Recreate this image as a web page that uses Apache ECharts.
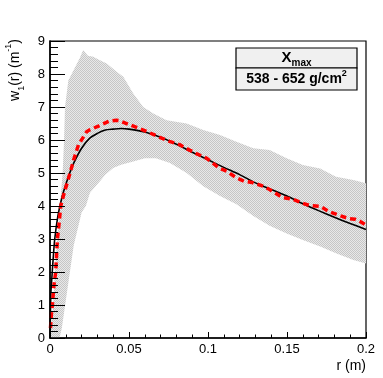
<!DOCTYPE html>
<html><head><meta charset="utf-8">
<script src="https://cdn.jsdelivr.net/npm/echarts@6/dist/echarts.min.js"></script>
<style>html,body{margin:0;padding:0;background:#fff}#c{width:383px;height:378px}</style>
</head><body><div id="c"></div>
<script>
// Band envelope (gray spread)
const upperX = [0,0.001,0.002,0.003,0.0045,0.0063,0.008,0.0089,0.0095,0.0116,0.0158,0.019,0.021,0.024,0.0274,0.0316,0.0359,0.0422,0.0464,0.0527,0.059,0.0654,0.0738,0.0865,0.097,0.1076,0.118,0.1287,0.139,0.1498,0.16,0.171,0.181,0.192,0.2];
const upperY = [0,0.5,1.0,2.0,3.0,4.0,5.0,6.0,7.0,7.8,8.2,8.5,8.73,8.55,8.52,8.42,8.32,8.07,7.92,7.41,7.0,6.8,6.6,6.5,6.3,6.15,5.95,5.75,5.7,5.45,5.24,5.14,4.89,4.79,4.69];
const lowerX = [0,0.006,0.0075,0.009,0.012,0.015,0.0175,0.02,0.0227,0.0253,0.0316,0.035,0.04,0.045,0.0527,0.06,0.067,0.0759,0.0865,0.097,0.1076,0.118,0.1287,0.139,0.1498,0.16,0.171,0.181,0.192,0.2];
const lowerY = [0,0,0.3,0.8,1.8,2.8,3.3,3.8,4.0,4.4,4.75,4.95,5.15,5.25,5.35,5.45,5.45,5.3,5.0,4.6,4.3,4.05,3.7,3.4,3.17,2.97,2.77,2.57,2.36,2.26];
// Fit curve (black)
const fitX = [0,0.0005,0.001,0.002,0.003,0.005,0.0075,0.01,0.0125,0.015,0.02,0.025,0.03,0.035,0.04,0.045,0.05,0.06,0.07,0.08,0.09,0.1,0.11,0.12,0.13,0.14,0.15,0.16,0.17,0.18,0.19,0.2];
const fitY = [0,1.3,1.7,2.4,3.0,3.7,4.25,4.65,5.0,5.3,5.75,6.05,6.2,6.3,6.33,6.35,6.33,6.24,6.08,5.87,5.63,5.4,5.17,4.95,4.7,4.5,4.3,4.07,3.86,3.66,3.47,3.29];
// Mean profile (red dashed)
const meanX = [0.0003,0.001,0.0015,0.0025,0.0036,0.0047,0.0058,0.0068,0.009,0.0112,0.0127,0.015,0.018,0.0232,0.0248,0.031,0.0375,0.042,0.0438,0.05,0.0565,0.063,0.069,0.0756,0.082,0.088,0.093,0.099,0.107,0.112,0.118,0.123,0.128,0.135,0.139,0.147,0.154,0.159,0.164,0.171,0.177,0.184,0.189,0.193,0.196,0.2];
const meanY = [0.3,0.8,1.0,1.6,2.0,3.0,3.5,4.0,4.4,4.75,5.0,5.4,5.85,6.25,6.3,6.43,6.57,6.6,6.59,6.47,6.35,6.22,6.09,5.96,5.86,5.7,5.58,5.45,5.15,5.05,4.85,4.75,4.71,4.6,4.5,4.26,4.2,4.1,4.02,3.99,3.82,3.7,3.62,3.6,3.54,3.42];
const xTicks = [0,0.05,0.1,0.15,0.2];
const yTicks = [0,1,2,3,4,5,6,7,8,9];
const legendTitle = 'X';
const legendSub = 'max';
const legendRange = '538 - 652 g/cm';

const pc = document.createElement('canvas');
pc.width = 2; pc.height = 2;
const g = pc.getContext('2d');
g.fillStyle = '#e8e8e8'; g.fillRect(0,0,2,2);
g.fillStyle = '#c6c6c6'; g.fillRect(0,0,1,1); g.fillRect(1,1,1,1);

const chart = echarts.init(document.getElementById('c'), null, {renderer:'canvas'});
const F = 'Liberation Sans, Arial, sans-serif';
chart.setOption({
  animation: false,
  grid: {left: 50, right: 17, top: 41, bottom: 40, show: true, borderColor: '#000', borderWidth: 1.2, backgroundColor: 'transparent'},
  xAxis: {
    type: 'value', min: xTicks[0], max: xTicks[xTicks.length-1], interval: 0.05, z: 5,
    axisLine: {show: true, onZero: false, lineStyle: {color: '#000', width: 1.5}},
    axisTick: {show: true, inside: true, length: 6, lineStyle: {color: '#000'}},
    minorTick: {show: true, splitNumber: 5, length: 3.5, lineStyle: {color: '#000'}},
    splitLine: {show: false},
    axisLabel: {color: '#000', fontFamily: F, fontSize: 13, margin: 5},
    name: 'r (m)', nameLocation: 'end', nameGap: 0,
    nameTextStyle: {color: '#000', fontFamily: F, fontSize: 14, align: 'right', verticalAlign: 'top', padding: [21, 0, 0, 0]}
  },
  yAxis: {
    type: 'value', min: yTicks[0], max: yTicks[yTicks.length-1], interval: 1, z: 5,
    axisLine: {show: true, onZero: false, lineStyle: {color: '#000', width: 1.5}},
    axisTick: {show: true, inside: true, length: 15, lineStyle: {color: '#000'}},
    minorTick: {show: true, splitNumber: 5, length: 8, lineStyle: {color: '#000'}},
    splitLine: {show: false},
    axisLabel: {color: '#000', fontFamily: F, fontSize: 13, margin: 5}
  },
  series: [
    {
      type: 'custom', z: 1, clip: true,
      data: [0],
      renderItem: function (params, api) {
        const pts = [];
        for (let i = 0; i < upperX.length; i++) pts.push(api.coord([upperX[i], upperY[i]]));
        for (let i = lowerX.length - 1; i >= 0; i--) pts.push(api.coord([lowerX[i], lowerY[i]]));
        return {type: 'polygon', shape: {points: pts}, style: {fill: {image: pc, repeat: 'repeat'}, stroke: null}};
      }
    },
    {
      type: 'line', z: 3, showSymbol: false, smooth: 0.3,
      data: fitX.map((x, i) => [x, fitY[i]]),
      lineStyle: {color: '#000', width: 1.6}
    },
    {
      type: 'line', z: 4, showSymbol: false,
      data: meanX.map((x, i) => [x, meanY[i]]),
      lineStyle: {color: '#ff0000', width: 3.5, type: [6, 4]}
    }
  ],
  graphic: [
    {type: 'rect', shape: {x: 236, y: 48, width: 121, height: 20}, style: {fill: '#f0f0f0', stroke: '#000', lineWidth: 1.2}, z: 10},
    {type: 'rect', shape: {x: 236, y: 68, width: 121, height: 22}, style: {fill: '#f0f0f0', stroke: '#000', lineWidth: 1.2}, z: 10},
    {type: 'text', x: 296.5, y: 58, z: 11, style: {
      text: '{m|' + legendTitle + '}{s|' + legendSub + '}', align: 'center', verticalAlign: 'middle',
      rich: {m: {fontFamily: F, fontSize: 15, fontWeight: 'bold', fill: '#000', lineHeight: 20, verticalAlign: 'middle'},
             s: {fontFamily: F, fontSize: 10, fontWeight: 'bold', fill: '#000', lineHeight: 20, verticalAlign: 'bottom'}}}},
    {type: 'text', x: 296.5, y: 79.5, z: 11, style: {
      text: '{m|' + legendRange + '}{p|2}', align: 'center', verticalAlign: 'middle',
      rich: {m: {fontFamily: F, fontSize: 14, fontWeight: 'bold', fill: '#000', lineHeight: 20, verticalAlign: 'middle'},
             p: {fontFamily: F, fontSize: 9, fontWeight: 'bold', fill: '#000', lineHeight: 20, verticalAlign: 'top'}}}},
    {type: 'text', x: 15, y: 39, rotation: Math.PI / 2, z: 11, style: {
      text: '{m|w}{s|1}{m|(r) (m}{p|-1}{m|)}', align: 'right', verticalAlign: 'middle',
      rich: {m: {fontFamily: F, fontSize: 14, fill: '#000', lineHeight: 22, verticalAlign: 'middle'},
             s: {fontFamily: F, fontSize: 9, fill: '#000', lineHeight: 22, verticalAlign: 'bottom'},
             p: {fontFamily: F, fontSize: 9, fill: '#000', lineHeight: 22, verticalAlign: 'top'}}}}
  ]
});
</script></body></html>
